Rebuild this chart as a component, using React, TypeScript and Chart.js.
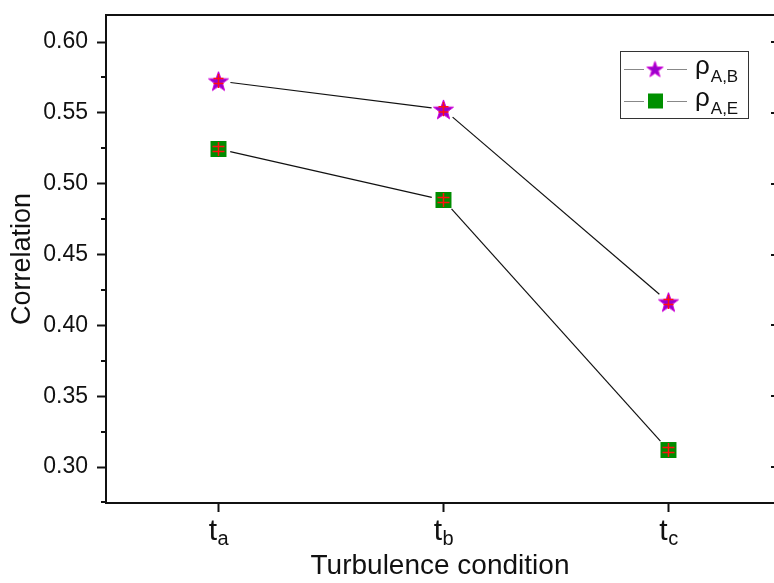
import React, { useEffect, useRef } from 'react';
import { Chart, registerables } from 'chart.js';

Chart.register(...registerables);

// ---- data ----
const categories = ['a', 'b', 'c'];
const seriesAB = [0.5725, 0.5525, 0.4165];
const seriesAE = [0.5245, 0.4885, 0.312];
const errAB = [0.0018, 0.0018, 0.0018];
const errAE = [0.0018, 0.0018, 0.0018];
const yMajorTicks = [0.3, 0.35, 0.4, 0.45, 0.5, 0.55, 0.6];
const yMinorTicks = [0.275, 0.325, 0.375, 0.425, 0.475, 0.525, 0.575];
const legendSymbol = 'ρ';
const legendSubs = ['A,B', 'A,E'];
const xTitle = 'Turbulence condition';
const yTitle = 'Correlation';

const Y_MIN = 0.2746;
const Y_MAX = 0.6191;
const X_MIN = -0.5;
const X_MAX = 2.469;

const FONT = "'Liberation Sans', Arial, sans-serif";

function makeStar(R: number, fill: string, stroke: string): HTMLCanvasElement {
  const s = Math.ceil(2 * R + 4);
  const c = document.createElement('canvas');
  c.width = s;
  c.height = s;
  const ctx = c.getContext('2d')!;
  const r = R * 0.4;
  const cx = s / 2;
  const cy = s / 2 + (R - R * Math.cos(Math.PI / 5)) / 2;
  ctx.beginPath();
  for (let i = 0; i < 10; i++) {
    const rad = i % 2 === 0 ? R : r;
    const a = -Math.PI / 2 + (i * Math.PI) / 5;
    const x = cx + rad * Math.cos(a);
    const y = cy + rad * Math.sin(a);
    if (i === 0) ctx.moveTo(x, y);
    else ctx.lineTo(x, y);
  }
  ctx.closePath();
  ctx.fillStyle = fill;
  ctx.fill();
  ctx.strokeStyle = stroke;
  ctx.lineWidth = 1;
  ctx.stroke();
  return c;
}

function zeroPad(s: any) {
  s.paddingTop = 0;
  s.paddingBottom = 0;
  s.paddingLeft = 0;
  s.paddingRight = 0;
}

export default function App() {
  const ref = useRef<HTMLCanvasElement | null>(null);

  useEffect(() => {
    const canvas = ref.current;
    if (!canvas) return;
    const star = makeStar(10.5, '#9a00cc', '#d000d8');
    const legendStar = makeStar(8.5, '#9a00cc', '#d000d8');
    const errs = [errAB, errAE];

    const decor = {
      id: 'decor',
      beforeDatasetsDraw(chart: any) {
        const ctx = chart.ctx;
        ctx.save();
        ctx.strokeStyle = '#111';
        ctx.lineWidth = 1.2;
        chart.data.datasets.forEach((_: any, i: number) => {
          const pts = chart.getDatasetMeta(i).data;
          for (let j = 0; j < pts.length - 1; j++) {
            const a = pts[j], b = pts[j + 1];
            const dx = b.x - a.x, dy = b.y - a.y;
            const len = Math.hypot(dx, dy);
            const ux = dx / len, uy = dy / len;
            const gap = 12;
            ctx.beginPath();
            ctx.moveTo(a.x + ux * gap, a.y + uy * gap);
            ctx.lineTo(b.x - ux * gap, b.y - uy * gap);
            ctx.stroke();
          }
        });
        ctx.restore();
      },
      afterDatasetsDraw(chart: any) {
        const ctx = chart.ctx;
        const ys = chart.scales.y;
        ctx.save();
        ctx.strokeStyle = '#ff1010';
        ctx.lineWidth = 1.5;
        chart.data.datasets.forEach((ds: any, i: number) => {
          const pts = chart.getDatasetMeta(i).data;
          pts.forEach((p: any, j: number) => {
            const v = ds.data[j].y;
            const e = errs[i][j];
            const yt = ys.getPixelForValue(v + e);
            const yb = ys.getPixelForValue(v - e);
            const hw = i === 0 ? 5 : 6;
            ctx.beginPath();
            ctx.moveTo(p.x, p.y - 7);
            ctx.lineTo(p.x, p.y + 7);
            ctx.moveTo(p.x - hw, yt);
            ctx.lineTo(p.x + hw, yt);
            ctx.moveTo(p.x - hw, yb);
            ctx.lineTo(p.x + hw, yb);
            ctx.stroke();
          });
        });
        ctx.restore();
      },
      afterDraw(chart: any) {
        const ctx = chart.ctx;
        const area = chart.chartArea;
        const ys = chart.scales.y;
        const xs = chart.scales.x;
        ctx.save();
        // top frame
        ctx.strokeStyle = '#111';
        ctx.lineWidth = 2;
        ctx.beginPath();
        ctx.moveTo(area.left - 1, area.top);
        ctx.lineTo(chart.width, area.top);
        ctx.stroke();
        // minor ticks on left
        ctx.beginPath();
        yMinorTicks.forEach((v) => {
          if (v < Y_MIN || v > Y_MAX) return;
          const y = Math.round(ys.getPixelForValue(v));
          ctx.moveTo(area.left - 5, y);
          ctx.lineTo(area.left, y);
        });
        // right mirrored ticks (axis lies just beyond the canvas)
        yMajorTicks.forEach((v) => {
          const y = Math.round(ys.getPixelForValue(v));
          ctx.moveTo(chart.width - 3, y);
          ctx.lineTo(chart.width, y);
        });
        ctx.stroke();

        // x tick labels with subscripts
        ctx.fillStyle = '#111';
        ctx.textBaseline = 'alphabetic';
        ctx.textAlign = 'left';
        categories.forEach((c, i) => {
          const x = xs.getPixelForValue(i);
          ctx.font = `30px ${FONT}`;
          const wt = ctx.measureText('t').width;
          ctx.font = `20px ${FONT}`;
          const ws = ctx.measureText(c).width;
          const x0 = x - (wt + ws) / 2;
          ctx.font = `30px ${FONT}`;
          ctx.fillText('t', x0, area.bottom + 37);
          ctx.font = `20px ${FONT}`;
          ctx.fillText(c, x0 + wt + 0.5, area.bottom + 42);
        });

        // legend
        const bx = 620.5, by = 51.5, bw = 128, bh = 67;
        ctx.strokeStyle = '#333';
        ctx.lineWidth = 1;
        ctx.strokeRect(bx, by, bw, bh);
        const rows = [69, 101];
        rows.forEach((ry, i) => {
          ctx.strokeStyle = '#888';
          ctx.lineWidth = 1.2;
          ctx.beginPath();
          ctx.moveTo(624, ry + 0.5);
          ctx.lineTo(644, ry + 0.5);
          ctx.moveTo(667, ry + 0.5);
          ctx.lineTo(687, ry + 0.5);
          ctx.stroke();
          if (i === 0) {
            ctx.drawImage(legendStar, 655 - legendStar.width / 2, ry - legendStar.height / 2);
          } else {
            ctx.fillStyle = '#009000';
            ctx.fillRect(648, ry - 7.5, 15, 15);
          }
          ctx.fillStyle = '#111';
          ctx.font = `26px ${FONT}`;
          ctx.fillText(legendSymbol, 695, ry + 5);
          const w = ctx.measureText(legendSymbol).width;
          ctx.font = `17px ${FONT}`;
          ctx.fillText(legendSubs[i], 695 + w + 1, ry + 13);
        });
        ctx.restore();
      },
    };

    const chart = new Chart(canvas, {
      type: 'scatter',
      data: {
        datasets: [
          {
            label: 'ρA,B',
            data: seriesAB.map((v, i) => ({ x: i, y: v })),
            showLine: false,
            pointStyle: star as any,
            pointRadius: 11,
            backgroundColor: '#9a00cc',
            borderColor: '#d000d8',
          },
          {
            label: 'ρA,E',
            data: seriesAE.map((v, i) => ({ x: i, y: v })),
            showLine: false,
            pointStyle: 'rect',
            pointRadius: 11.3,
            pointBorderWidth: 0,
            backgroundColor: '#008c00',
            borderColor: '#008c00',
          },
        ],
      },
      options: {
        responsive: false,
        animation: false,
        events: [],
        layout: { autoPadding: false, padding: { top: 15, right: 0, left: 0, bottom: 0 } },
        plugins: { legend: { display: false }, tooltip: { enabled: false } },
        scales: {
          x: {
            type: 'linear',
            min: X_MIN,
            max: X_MAX,
            afterBuildTicks: (s: any) => {
              s.ticks = categories.map((_, i) => ({ value: i }));
            },
            afterFit: (s: any) => {
              s.height = 80;
              zeroPad(s);
            },
            ticks: { callback: () => '', font: { size: 1 } },
            grid: {
              drawOnChartArea: false,
              drawTicks: true,
              tickLength: 9,
              tickColor: '#111',
              tickWidth: 2,
            },
            border: { display: true, color: '#111', width: 2 },
            title: {
              display: true,
              text: xTitle,
              color: '#111',
              font: { family: FONT, size: 28 },
              padding: { top: 0, bottom: 0 },
            },
          },
          y: {
            type: 'linear',
            min: Y_MIN,
            max: Y_MAX,
            afterBuildTicks: (s: any) => {
              s.ticks = yMajorTicks.map((v) => ({ value: v }));
            },
            afterFit: (s: any) => {
              s.width = 106;
              zeroPad(s);
            },
            ticks: {
              callback: (v: any) => Number(v).toFixed(2),
              color: '#111',
              font: { family: FONT, size: 23 },
              padding: 9,
            },
            grid: {
              drawOnChartArea: false,
              drawTicks: true,
              tickLength: 9,
              tickColor: '#111',
              tickWidth: 2,
            },
            border: { display: true, color: '#111', width: 2 },
            title: {
              display: true,
              text: yTitle,
              color: '#111',
              font: { family: FONT, size: 27 },
              padding: { top: 6, bottom: 0 },
            },
          },
        },
      },
      plugins: [decor],
    });
    return () => chart.destroy();
  }, []);

  return (
    <div style={{ position: 'absolute', left: 0, top: 0, width: 774, height: 583, background: '#fff' }}>
      <canvas ref={ref} width={774} height={583} style={{ display: 'block', width: 774, height: 583 }} />
    </div>
  );
}
